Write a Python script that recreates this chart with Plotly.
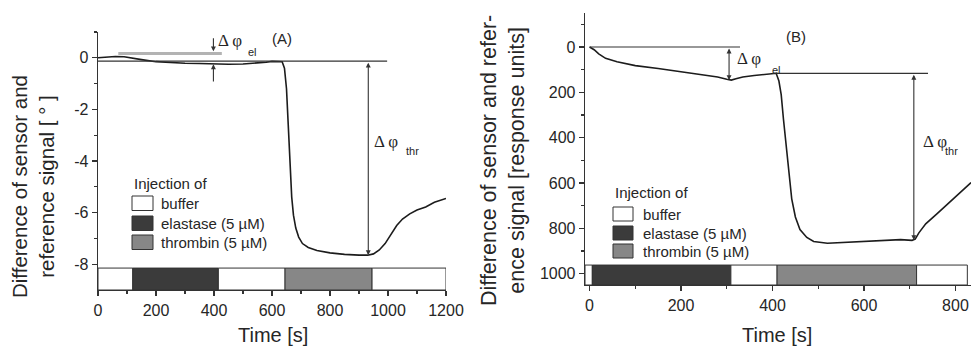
import plotly.graph_objects as go

W, H = 971, 347

# ---------------- data: panel (A) ----------------
time_a = [0, 30, 60, 90, 120, 150, 200, 250, 300, 350, 400, 450, 500, 550, 580, 600,
          620, 635, 643, 650, 656, 662, 668, 674, 682, 692, 705, 725, 755, 800, 850,
          900, 930, 950, 970, 990, 1010, 1030, 1050, 1075, 1100, 1130, 1160, 1185, 1200]
signal_a = [0.0, 0.02, 0.05, 0.04, -0.02, -0.07, -0.15, -0.19, -0.21, -0.22, -0.24, -0.25,
            -0.24, -0.21, -0.17, -0.14, -0.13, -0.15, -0.4, -1.2, -2.6, -4.1, -5.4, -6.1,
            -6.6, -6.95, -7.2, -7.35, -7.47, -7.56, -7.62, -7.65, -7.65, -7.6, -7.45, -7.2,
            -6.85, -6.5, -6.25, -6.05, -5.9, -5.78, -5.6, -5.5, -5.45]

# ---------------- data: panel (B) ----------------
time_b = [0, 10, 20, 35, 60, 100, 150, 200, 250, 280, 300, 310, 320, 335, 360, 390, 408,
          414, 419, 424, 430, 436, 442, 450, 460, 475, 490, 520, 560, 600, 640, 680, 705,
          712, 720, 735, 760, 790, 810, 834]
signal_b = [0, 12, 30, 50, 65, 82, 95, 108, 122, 132, 142, 146, 140, 132, 126, 120, 116,
            150, 210, 320, 440, 570, 670, 750, 805, 840, 858, 866, 862, 856, 852, 850, 853,
            848, 820, 780, 735, 680, 645, 598]

# injection periods
inj_a_start = [0, 120, 415, 645, 945]
inj_a_end = [120, 415, 645, 945, 1200]
inj_a_kind = ["buffer", "elastase", "buffer", "thrombin", "buffer"]
inj_b_start = [-10, 6, 309, 410, 715]
inj_b_end = [6, 309, 410, 715, 826]
inj_b_kind = ["buffer", "elastase", "buffer", "thrombin", "buffer"]

legend_kinds = ["buffer", "elastase", "thrombin"]
legend_labels = ["buffer", "elastase (5 µM)", "thrombin (5 µM)"]

# tick labels
xticks_a = [0, 200, 400, 600, 800, 1000, 1200]
xminor_a = [100, 300, 500, 700, 900, 1100]
yticks_a = [-8, -6, -4, -2, 0]
yticklabels_a = ["-8", "-6", "-4", "-2", "0"]
yminor_a = [-7, -5, -3, -1, 1]
xticks_b = [0, 200, 400, 600, 800]
xminor_b = [100, 300, 500, 700]
yticks_b = [0, 200, 400, 600, 800, 1000]
yminor_b = [-100, 100, 300, 500, 700, 900]

# reference levels / read-outs
ref_a = -0.13          # baseline of (A)
gray_a = 0.17          # start level before elastase
el_time_a = 398
thr_time_a = 932
thr_min_a = -7.65
ref_b = 0
el_time_b = 305
el_min_b = 146
ref2_b = 116
thr_time_b = 709
thr_min_b = 852

# ---------------- styling ----------------
FONT = "Liberation Sans, Arial, sans-serif"
SERIF = "Liberation Serif, Times New Roman, serif"
TXT = "#262626"
AX = "#333333"
LINE = "#1c1c1c"
FILL = {"buffer": "#ffffff", "elastase": "#3b3b3b", "thrombin": "#878787"}


def px_x(p):
    return p / W


def px_y(p):
    return 1 - p / H


fig = go.Figure()
fig.add_trace(go.Scatter(x=time_a, y=signal_a, mode="lines", xaxis="x", yaxis="y",
                         line=dict(color=LINE, width=1.6), showlegend=False, hoverinfo="skip"))
fig.add_trace(go.Scatter(x=time_b, y=signal_b, mode="lines", xaxis="x2", yaxis="y2",
                         line=dict(color=LINE, width=1.6), showlegend=False, hoverinfo="skip"))

shapes = []
# injection bars
for s, e, k in zip(inj_a_start, inj_a_end, inj_a_kind):
    shapes.append(dict(type="rect", xref="x", yref="y", x0=s, x1=e, y0=-9, y1=-8.15,
                       fillcolor=FILL[k], line=dict(color=AX, width=1), layer="below"))
for s, e, k in zip(inj_b_start, inj_b_end, inj_b_kind):
    shapes.append(dict(type="rect", xref="x2", yref="y2", x0=s, x1=e, y0=1050, y1=962,
                       fillcolor=FILL[k], line=dict(color=AX, width=1), layer="below"))

# reference lines
shapes.append(dict(type="line", xref="x", yref="y", x0=0, x1=997, y0=ref_a, y1=ref_a,
                   line=dict(color=AX, width=1.2)))
shapes.append(dict(type="line", xref="x", yref="y", x0=70, x1=427, y0=gray_a, y1=gray_a,
                   line=dict(color="#b3b3b3", width=3)))
shapes.append(dict(type="line", xref="x2", yref="y2", x0=0, x1=329, y0=ref_b, y1=ref_b,
                   line=dict(color=AX, width=1.2)))
shapes.append(dict(type="line", xref="x2", yref="y2", x0=400, x1=740, y0=ref2_b, y1=ref2_b,
                   line=dict(color=AX, width=1.2)))

# legend boxes (pixel positions)
leg_a = dict(x0=132, x1=153, tops=[196, 216, 235], h=14.5, label_x=159, title_y=183)
leg_b = dict(x0=613, x1=633, tops=[207, 226, 244], h=14, label_x=641, title_y=192)

annotations = []
for leg in (leg_a, leg_b):
    for top, k, lab in zip(leg["tops"], legend_kinds, legend_labels):
        shapes.append(dict(type="rect", xref="paper", yref="paper",
                           x0=px_x(leg["x0"]), x1=px_x(leg["x1"]),
                           y0=px_y(top + leg["h"]), y1=px_y(top),
                           fillcolor=FILL[k], line=dict(color=AX, width=1)))
        annotations.append(dict(xref="paper", yref="paper", x=px_x(leg["label_x"]),
                                y=px_y(top + leg["h"] / 2), text=lab, showarrow=False,
                                xanchor="left", yanchor="middle",
                                font=dict(family=FONT, size=15, color=TXT)))
    annotations.append(dict(xref="paper", yref="paper", x=px_x(leg["x0"]),
                            y=px_y(leg["title_y"]), text="Injection of", showarrow=False,
                            xanchor="left", yanchor="middle",
                            font=dict(family=FONT, size=15, color=TXT)))

# arrows
arrow_common = dict(showarrow=True, text="", arrowcolor=AX, arrowwidth=1.1,
                    arrowsize=0.9, arrowhead=2, standoff=0, startstandoff=0)
annotations.append(dict(xref="x", yref="y", axref="x", ayref="y", x=el_time_a, y=gray_a + 0.08,
                        ax=el_time_a, ay=0.82, **arrow_common))
annotations.append(dict(xref="x", yref="y", axref="x", ayref="y", x=el_time_a, y=ref_a - 0.12,
                        ax=el_time_a, ay=-0.98, **arrow_common))
annotations.append(dict(xref="x", yref="y", axref="x", ayref="y", x=thr_time_a, y=thr_min_a,
                        ax=thr_time_a, ay=ref_a, arrowside="end+start", **arrow_common))
annotations.append(dict(xref="x2", yref="y2", axref="x2", ayref="y2", x=el_time_b, y=el_min_b,
                        ax=el_time_b, ay=ref_b, arrowside="end+start", **arrow_common))
annotations.append(dict(xref="x2", yref="y2", axref="x2", ayref="y2", x=thr_time_b, y=thr_min_b,
                        ax=thr_time_b, ay=ref2_b, arrowside="end+start", **arrow_common))


# delta-phi labels (pixel positions)
def label(x, y, text, size, family=SERIF, anchor="left"):
    annotations.append(dict(xref="paper", yref="paper", x=px_x(x), y=px_y(y), text=text,
                            showarrow=False, xanchor=anchor, yanchor="middle",
                            font=dict(family=family, size=size, color=TXT)))


label(216, 41, "Δ φ", 17)
label(246, 52, "el", 11, FONT)
label(282, 38, "(A)", 15, FONT, "center")
label(372, 141, "Δ φ", 17)
label(404, 151, "thr", 11, FONT)
label(735, 59, "Δ φ", 17)
label(770, 70, "el", 11, FONT)
label(796, 37, "(B)", 15, FONT, "center")
label(921, 141, "Δ φ", 17)
label(943, 151, "thr", 11, FONT)

# axis titles
label(273, 335, "Time [s]", 20, FONT, "center")
label(777, 335, "Time [s]", 20, FONT, "center")
annotations.append(dict(xref="paper", yref="paper", x=px_x(33), y=px_y(187),
                        text="Difference of sensor and<br>reference signal [ ° ]",
                        textangle=-90, showarrow=False, xanchor="center", yanchor="middle",
                        font=dict(family=FONT, size=20.5, color=TXT)))
annotations.append(dict(xref="paper", yref="paper", x=px_x(503), y=px_y(161),
                        text="Difference of sensor and refer-<br>ence signal [response units]",
                        textangle=-90, showarrow=False, xanchor="center", yanchor="middle",
                        font=dict(family=FONT, size=21.5, color=TXT)))

axis_common = dict(showline=True, linecolor=AX, linewidth=1.3, ticks="outside", ticklen=5,
                   tickwidth=1.2, tickcolor=AX, showgrid=False, zeroline=False,
                   automargin=False,
                   tickfont=dict(family=FONT, size=16, color=TXT))

fig.update_layout(
    width=W, height=H, autosize=False,
    margin=dict(l=0, r=0, t=0, b=0, pad=0, autoexpand=False),
    paper_bgcolor="white", plot_bgcolor="white",
    showlegend=False,
    xaxis=dict(domain=[px_x(98), px_x(446)], range=[0, 1200], anchor="y",
               tickvals=xticks_a,
               minor=dict(ticks="outside", ticklen=3, tickcolor=AX, tickvals=xminor_a),
               **axis_common),
    yaxis=dict(domain=[px_y(290), px_y(32)], range=[-9, 1], anchor="x",
               tickvals=yticks_a, ticktext=yticklabels_a,
               minor=dict(ticks="outside", ticklen=3, tickcolor=AX, tickvals=yminor_a),
               **axis_common),
    xaxis2=dict(domain=[px_x(585), 1.0], range=[-10, 834], anchor="y2",
                tickvals=xticks_b,
                minor=dict(ticks="outside", ticklen=3, tickcolor=AX, tickvals=xminor_b),
                **axis_common),
    yaxis2=dict(domain=[px_y(285), px_y(13)], range=[1050, -150], anchor="x2",
                tickvals=yticks_b,
                minor=dict(ticks="outside", ticklen=3, tickcolor=AX, tickvals=yminor_b),
                **axis_common),
    shapes=shapes,
    annotations=annotations,
)

post = (
    "document.documentElement.style.overflow='hidden';"
    "document.documentElement.style.margin='0';"
    "document.body.style.margin='0';"
    "document.body.style.padding='0';"
    "document.body.style.overflow='hidden';"
)

fig.write_html("out.html",
               config={"responsive": False, "staticPlot": True, "displayModeBar": False},
               post_script=post)
